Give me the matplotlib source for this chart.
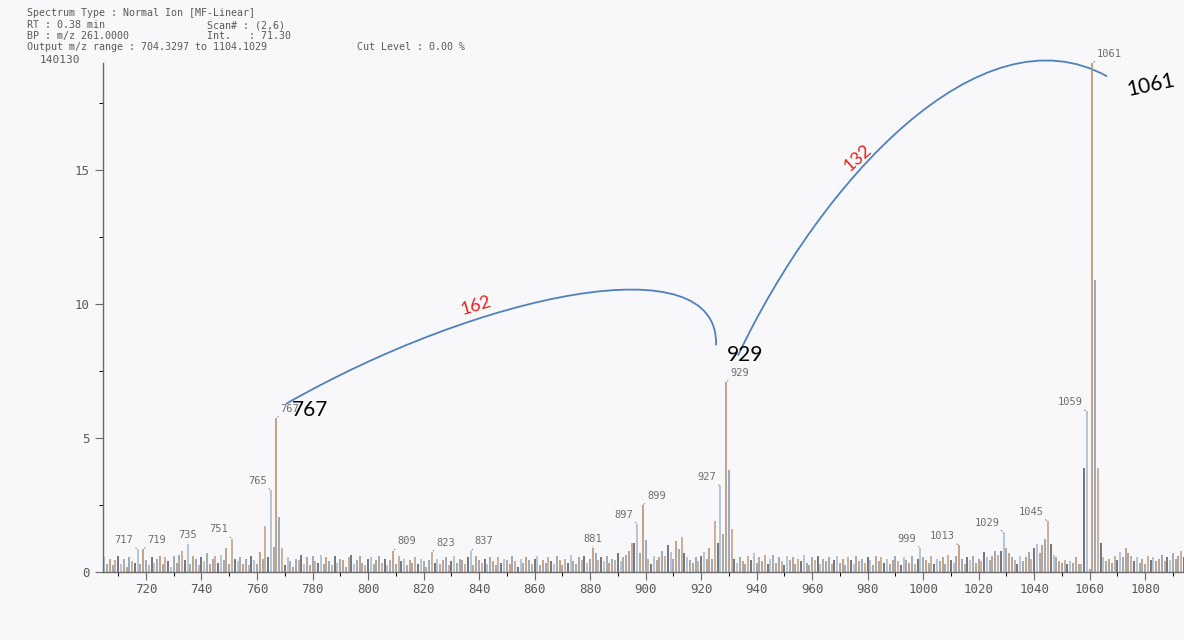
import numpy as np
import matplotlib
matplotlib.use("Agg")
import matplotlib.pyplot as plt
from matplotlib.path import Path
from matplotlib.patches import PathPatch
from matplotlib.ticker import MultipleLocator

# ---- data ----
mz_start = 705
noise = [
    0.55, 0.30, 0.50, 0.25, 0.45, 0.60, 0.30, 0.50, 0.20, 0.55, 0.40, 0.35, 0.50, 0.30, 0.45, 0.45, 0.25, 0.55, 0.35, 0.50,
    0.60, 0.30, 0.55, 0.40, 0.20, 0.60, 0.35, 0.65, 0.55, 0.45, 0.50, 0.30, 0.60, 0.50, 0.25, 0.55, 0.40, 0.70, 0.30, 0.50,
    0.60, 0.35, 0.65, 0.45, 0.55, 0.30, 0.60, 0.50, 0.40, 0.55, 0.30, 0.50, 0.25, 0.60, 0.45, 0.30, 0.55, 0.40, 0.55, 0.35,
    0.50, 0.30, 0.45, 0.35, 0.60, 0.25, 0.55, 0.40, 0.20, 0.50, 0.45, 0.65, 0.30, 0.55, 0.25, 0.60, 0.40, 0.35, 0.65, 0.30,
    0.55, 0.40, 0.25, 0.60, 0.35, 0.50, 0.45, 0.20, 0.55, 0.65, 0.30, 0.45, 0.60, 0.35, 0.25, 0.50, 0.55, 0.30, 0.45, 0.60,
    0.35, 0.50, 0.25, 0.45, 0.55, 0.30, 0.60, 0.40, 0.50, 0.25, 0.45, 0.35, 0.55, 0.30, 0.50, 0.40, 0.20, 0.45, 0.60, 0.35,
    0.50, 0.30, 0.45, 0.55, 0.25, 0.40, 0.60, 0.35, 0.50, 0.45, 0.30, 0.55, 0.40, 0.25, 0.60, 0.45, 0.35, 0.50, 0.30, 0.55,
    0.40, 0.25, 0.55, 0.35, 0.50, 0.45, 0.30, 0.60, 0.40, 0.20, 0.50, 0.35, 0.55, 0.45, 0.30, 0.50, 0.60, 0.25, 0.45, 0.35,
    0.55, 0.40, 0.30, 0.60, 0.45, 0.25, 0.50, 0.35, 0.65, 0.40, 0.30, 0.55, 0.45, 0.60, 0.35, 0.50, 0.40, 0.70, 0.45, 0.55,
    0.40, 0.60, 0.35, 0.50, 0.45, 0.70, 0.40, 0.55, 0.65, 0.80, 1.10, 0.60, 0.40, 0.55, 0.35, 0.70, 0.50, 0.30, 0.60, 0.45,
    0.55, 0.80, 0.60, 1.00, 0.75, 0.50, 1.15, 0.85, 1.30, 0.70, 0.55, 0.45, 0.35, 0.55, 0.40, 0.60, 0.75, 0.50, 0.65, 0.40,
    0.60, 0.45, 0.50, 0.55, 0.50, 0.50, 0.55, 0.50, 0.35, 0.55, 0.40, 0.30, 0.60, 0.45, 0.70, 0.35, 0.55, 0.40, 0.65, 0.30,
    0.50, 0.65, 0.35, 0.55, 0.40, 0.25, 0.60, 0.45, 0.55, 0.30, 0.50, 0.40, 0.65, 0.35, 0.25, 0.55, 0.45, 0.60, 0.30, 0.50,
    0.40, 0.55, 0.30, 0.45, 0.60, 0.35, 0.50, 0.25, 0.55, 0.45, 0.30, 0.60, 0.40, 0.50, 0.35, 0.55, 0.45, 0.25, 0.60, 0.40,
    0.55, 0.35, 0.50, 0.30, 0.45, 0.60, 0.40, 0.25, 0.55, 0.45, 0.35, 0.60, 0.30, 0.50, 0.40, 0.55, 0.45, 0.35, 0.60, 0.30,
    0.50, 0.40, 0.55, 0.30, 0.65, 0.45, 0.35, 0.60, 0.40, 0.50, 0.30, 0.55, 0.45, 0.60, 0.35, 0.50, 0.40, 0.75, 0.55, 0.45,
    0.60, 0.80, 0.65, 1.00, 0.80, 0.90, 0.70, 0.55, 0.45, 0.30, 0.60, 0.40, 0.55, 0.75, 0.50, 0.90, 1.05, 1.00, 1.20, 0.95,
    0.60, 1.05, 0.65, 0.55, 0.40, 0.35, 0.45, 0.30, 0.40, 0.35, 0.55, 0.30, 0.50, 0.70, 0.45, 0.55, 0.40, 0.45, 0.35, 0.80,
    0.55, 0.40, 0.50, 0.35, 0.60, 0.45, 0.75, 0.55, 0.90, 0.70, 0.60, 0.40, 0.55, 0.35, 0.50, 0.30, 0.60, 0.45, 0.55, 0.40,
    0.50, 0.65, 0.40, 0.55, 0.45, 0.70, 0.50, 0.60, 0.80, 0.55, 0.45, 0.60, 0.40, 0.55, 0.35, 0.60, 0.45, 0.50, 0.40, 0.55,
]

peak_mz = [717, 719, 733, 735, 749, 751,
           761, 762, 763, 764, 765, 766, 767, 768, 769,
           809, 823, 837, 881,
           896, 897, 898, 899, 900,
           923, 924, 925, 926, 927, 928, 929, 930, 931,
           999, 1013, 1028, 1029, 1030,
           1042, 1043, 1044, 1045, 1046,
           1057, 1058, 1059, 1060, 1061, 1062, 1063, 1064]
peak_int = [0.85, 0.85, 0.8, 1.05, 0.9, 1.25,
            0.75, 0.5, 1.7, 0.55, 3.06, 0.95, 5.75, 2.05, 0.9,
            0.8, 0.75, 0.8, 0.9,
            1.1, 1.8, 0.7, 2.5, 1.2,
            0.9, 0.5, 1.9, 1.1, 3.2, 1.4, 7.1, 3.8, 1.6,
            0.9, 1.0, 0.8, 1.5, 0.9,
            0.7, 1.0, 1.25, 1.9, 1.05,
            0.3, 3.9, 6.0, 0.1, 19.0, 10.9, 3.9, 1.1]

label_mz = [717, 719, 735, 751, 765, 767, 809, 823, 837, 881, 897, 899,
            927, 929, 999, 1013, 1029, 1045, 1059, 1061]
label_side = ["l", "r", "c", "l", "l", "r", "r", "r", "r", "c", "l", "r",
              "l", "r", "l", "l", "l", "l", "l", "r"]

header = [
    (27, 13, "Spectrum Type : Normal Ion [MF-Linear]"),
    (27, 25, "RT : 0.38 min"),
    (207, 25, "Scan# : (2,6)"),
    (27, 36, "BP : m/z 261.0000"),
    (207, 36, "Int.   : 71.30"),
    (27, 47, "Output m/z range : 704.3297 to 1104.1029"),
    (357, 47, "Cut Level : 0.00 %"),
]

mz = np.arange(mz_start, mz_start + len(noise))
intensity = np.array(noise, dtype=float)
for m, h in zip(peak_mz, peak_int):
    intensity[m - mz_start] = h

W, H = 1184, 640
bg = "#f8f8fa"
grey = "#6a6a6a"
mono = "DejaVu Sans Mono"

fig = plt.figure(figsize=(W / 100, H / 100), dpi=100, facecolor=bg)
ax = fig.add_axes([102.5 / W, 68 / H, (1212 - 102.5) / W, (572 - 63) / H])
ax.set_facecolor(bg)

palette = ["#8a9db3", "#c4a383", "#5f6068", "#a9bccd", "#9c9c9c", "#b89474"]
cols = [palette[(m * 7) % len(palette)] for m in mz]
ax.vlines(mz, 0, intensity, colors=cols, lw=1.2)

ax.set_xlim(704.33, 1104.10)
ax.set_ylim(0, 19.0)
for s in ["top", "right"]:
    ax.spines[s].set_visible(False)
for s in ["left", "bottom"]:
    ax.spines[s].set_color(grey)
    ax.spines[s].set_linewidth(1.0)

ax.set_xticks(list(range(720, 1081, 20)))
ax.xaxis.set_minor_locator(MultipleLocator(10))
ax.yaxis.set_major_locator(MultipleLocator(5))
ax.yaxis.set_minor_locator(MultipleLocator(2.5))
ax.tick_params(axis="both", colors=grey, labelcolor="#5a5a5a", labelsize=9, length=6, width=0.8)
ax.tick_params(axis="both", which="minor", length=3, width=0.7)
ax.tick_params(axis="x", pad=2)
for lab in ax.get_xticklabels() + ax.get_yticklabels():
    lab.set_family(mono)

# peak labels with short leaders
for m, side in zip(label_mz, label_side):
    h = intensity[m - mz_start]
    dx, ha = {"l": (-3, "right"), "r": (3, "left"), "c": (0, "center")}[side]
    ax.annotate(str(m), xy=(m, h), xytext=(dx, 3), textcoords="offset points",
                ha=ha, va="bottom", fontsize=7.5, color="#6e6e6e", family=mono,
                arrowprops=dict(arrowstyle="-", color="#777777", lw=0.6,
                                shrinkA=0, shrinkB=1))

fig.text(60 / W, 1 - 60 / H, "140130", ha="center", va="center",
         fontsize=8, color="#5a5a5a", family=mono)
for x, y, s in header:
    fig.text(x / W, 1 - y / H, s, ha="left", va="center", fontsize=7.2,
             color="#5a5a5a", family=mono)

# hand-drawn annotation arcs
arc_blue = "#4f81bd"
arcs = [
    [(770.5, 6.28), (840.4, 10.41), (926.8, 12.29), (925.4, 8.46)],
    [(933.3, 8.08), (962.9, 14.55), (1020.5, 21.13), (1066.3, 18.5)],
]
for pts in arcs:
    path = Path(pts, [Path.MOVETO, Path.CURVE4, Path.CURVE4, Path.CURVE4])
    ax.add_patch(PathPatch(path, fill=False, ec=arc_blue, lw=1.3, clip_on=False))

ax.text(838.9, 9.96, "162", color="#e8231f", fontsize=13, family="Lato",
        rotation=17, ha="center", va="center")
ax.text(976.6, 15.45, "132", color="#e8231f", fontsize=13, family="Lato",
        rotation=42, ha="center", va="center")

big = dict(fontsize=15, family="Lato", color="black", ha="center", va="center",
           textcoords="offset pixels")
ax.annotate("767", xy=(767, intensity[767 - mz_start]), xytext=(34, 8), **big)
ax.annotate("929", xy=(929, intensity[929 - mz_start]), xytext=(19, 27), **big)
ax.annotate("1061", xy=(1061, intensity[1061 - mz_start]), xytext=(58, -22),
            rotation=12, annotation_clip=False, **big)

fig.savefig("out.png", dpi=100, facecolor=bg)
